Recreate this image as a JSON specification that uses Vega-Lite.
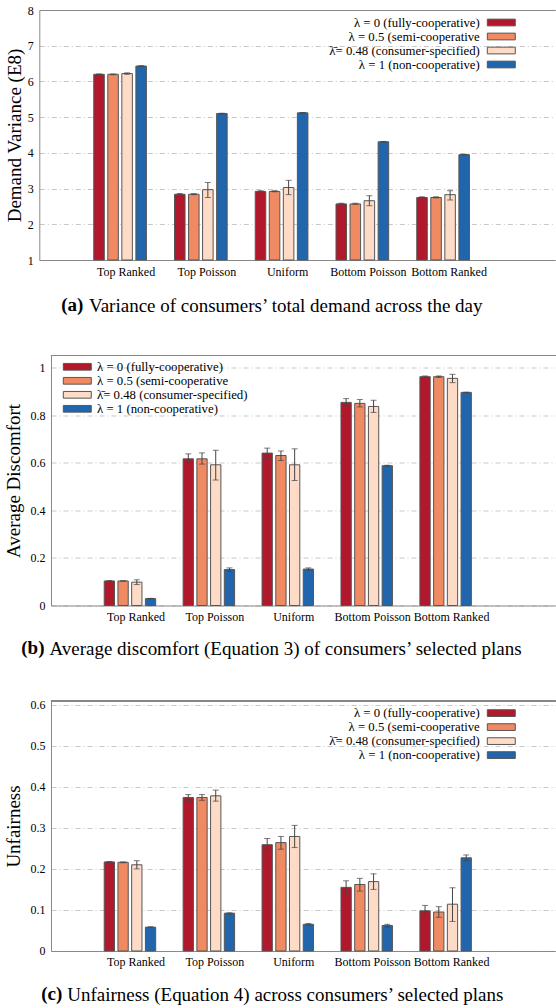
{
  "$schema": "https://vega.github.io/schema/vega-lite/v6.json",
  "background": "white",
  "padding": {"left": 5, "top": 4, "right": 0, "bottom": 0},
  "spacing": 38.5,
  "resolve": {"scale": {"x": "independent", "xOffset": "independent", "y": "independent", "color": "independent"}, "legend": {"color": "independent"}, "axis": {"x": "independent", "y": "independent"}},
  "config": {
    "font": "Liberation Serif",
    "view": {"stroke": null},
    "axis": {
      "labelFont": "Liberation Serif", "titleFont": "Liberation Serif",
      "labelColor": "#000", "titleColor": "#000", "domainColor": "#888", "domainWidth": 1,
      "ticks": false, "tickSize": 0, "labelFontSize": 12, "titleFontSize": 19, "titleFontWeight": "normal",
      "gridColor": "#c8c8c8", "gridDash": [5, 3, 1, 3], "gridWidth": 1, "labelOverlap": false
    },
    "axisX": {"grid": false, "labelAngle": 0, "labelPadding": 6, "labelOverlap": false, "titleBaseline": "alphabetic", "titleAlign": "center", "titleFontSize": 19, "titleFont": "Liberation Serif"},
    "axisY": {"grid": true, "labelPadding": 6, "format": "~g", "labelOverlap": false, "labelFont": "Liberation Serif"},
    "legend": {
      "title": null, "orient": "none", "symbolType": "M-2.33,-0.56L2.33,-0.56L2.33,0.56L-2.33,0.56Z", "symbolSize": 144,
      "symbolStrokeColor": "#555", "symbolStrokeWidth": 1, "symbolOpacity": 1, "labelFont": "Liberation Serif", "labelFontSize": 12.8,
      "labelColor": "#000", "rowPadding": -1.5, "padding": 0, "labelLimit": 300
    },
    "title": {"font": "Liberation Serif", "fontSize": 19, "fontWeight": "bold", "color": "#000", "orient": "bottom", "anchor": "start", "frame": "group", "baseline": "alphabetic", "offset": 0}
  },
  "datasets": {
    "a": [
      {"g": "Top Ranked", "s": "λ = 0 (fully-cooperative)", "v": 6.2, "lo": 6.19, "hi": 6.21},
      {"g": "Top Ranked", "s": "λ = 0.5 (semi-cooperative", "v": 6.2, "lo": 6.19, "hi": 6.21},
      {"g": "Top Ranked", "s": "λ̄= 0.48 (consumer-specified)", "v": 6.22, "lo": 6.2, "hi": 6.24},
      {"g": "Top Ranked", "s": "λ = 1 (non-cooperative)", "v": 6.43, "lo": 6.42, "hi": 6.44},
      {"g": "Top Poisson", "s": "λ = 0 (fully-cooperative)", "v": 2.84, "lo": 2.82, "hi": 2.86},
      {"g": "Top Poisson", "s": "λ = 0.5 (semi-cooperative", "v": 2.84, "lo": 2.83, "hi": 2.86},
      {"g": "Top Poisson", "s": "λ̄= 0.48 (consumer-specified)", "v": 2.97, "lo": 2.75, "hi": 3.17},
      {"g": "Top Poisson", "s": "λ = 1 (non-cooperative)", "v": 5.1, "lo": 5.09, "hi": 5.11},
      {"g": "Uniform", "s": "λ = 0 (fully-cooperative)", "v": 2.92, "lo": 2.91, "hi": 2.94},
      {"g": "Uniform", "s": "λ = 0.5 (semi-cooperative", "v": 2.92, "lo": 2.91, "hi": 2.94},
      {"g": "Uniform", "s": "λ̄= 0.48 (consumer-specified)", "v": 3.03, "lo": 2.83, "hi": 3.23},
      {"g": "Uniform", "s": "λ = 1 (non-cooperative)", "v": 5.12, "lo": 5.11, "hi": 5.13},
      {"g": "Bottom Poisson", "s": "λ = 0 (fully-cooperative)", "v": 2.57, "lo": 2.56, "hi": 2.59},
      {"g": "Bottom Poisson", "s": "λ = 0.5 (semi-cooperative", "v": 2.57, "lo": 2.56, "hi": 2.59},
      {"g": "Bottom Poisson", "s": "λ̄= 0.48 (consumer-specified)", "v": 2.66, "lo": 2.52, "hi": 2.8},
      {"g": "Bottom Poisson", "s": "λ = 1 (non-cooperative)", "v": 4.31, "lo": 4.3, "hi": 4.32},
      {"g": "Bottom Ranked", "s": "λ = 0 (fully-cooperative)", "v": 2.75, "lo": 2.74, "hi": 2.77},
      {"g": "Bottom Ranked", "s": "λ = 0.5 (semi-cooperative", "v": 2.75, "lo": 2.74, "hi": 2.77},
      {"g": "Bottom Ranked", "s": "λ̄= 0.48 (consumer-specified)", "v": 2.83, "lo": 2.68, "hi": 2.94},
      {"g": "Bottom Ranked", "s": "λ = 1 (non-cooperative)", "v": 3.95, "lo": 3.94, "hi": 3.96}
    ],
    "b": [
      {"g": "Top Ranked", "s": "λ = 0 (fully-cooperative)", "v": 0.103, "lo": 0.101, "hi": 0.105},
      {"g": "Top Ranked", "s": "λ = 0.5 (semi-cooperative", "v": 0.103, "lo": 0.102, "hi": 0.104},
      {"g": "Top Ranked", "s": "λ̄= 0.48 (consumer-specified)", "v": 0.098, "lo": 0.088, "hi": 0.108},
      {"g": "Top Ranked", "s": "λ = 1 (non-cooperative)", "v": 0.029, "lo": 0.028, "hi": 0.03},
      {"g": "Top Poisson", "s": "λ = 0 (fully-cooperative)", "v": 0.616, "lo": 0.597, "hi": 0.637},
      {"g": "Top Poisson", "s": "λ = 0.5 (semi-cooperative", "v": 0.616, "lo": 0.594, "hi": 0.641},
      {"g": "Top Poisson", "s": "λ̄= 0.48 (consumer-specified)", "v": 0.591, "lo": 0.527, "hi": 0.652},
      {"g": "Top Poisson", "s": "λ = 1 (non-cooperative)", "v": 0.151, "lo": 0.143, "hi": 0.158},
      {"g": "Uniform", "s": "λ = 0 (fully-cooperative)", "v": 0.64, "lo": 0.618, "hi": 0.661},
      {"g": "Uniform", "s": "λ = 0.5 (semi-cooperative", "v": 0.63, "lo": 0.609, "hi": 0.649},
      {"g": "Uniform", "s": "λ̄= 0.48 (consumer-specified)", "v": 0.591, "lo": 0.525, "hi": 0.658},
      {"g": "Uniform", "s": "λ = 1 (non-cooperative)", "v": 0.153, "lo": 0.148, "hi": 0.158},
      {"g": "Bottom Poisson", "s": "λ = 0 (fully-cooperative)", "v": 0.853, "lo": 0.838, "hi": 0.869},
      {"g": "Bottom Poisson", "s": "λ = 0.5 (semi-cooperative", "v": 0.849, "lo": 0.834, "hi": 0.865},
      {"g": "Bottom Poisson", "s": "λ̄= 0.48 (consumer-specified)", "v": 0.836, "lo": 0.811, "hi": 0.862},
      {"g": "Bottom Poisson", "s": "λ = 1 (non-cooperative)", "v": 0.587, "lo": 0.585, "hi": 0.589},
      {"g": "Bottom Ranked", "s": "λ = 0 (fully-cooperative)", "v": 0.961, "lo": 0.958, "hi": 0.964},
      {"g": "Bottom Ranked", "s": "λ = 0.5 (semi-cooperative", "v": 0.961, "lo": 0.958, "hi": 0.964},
      {"g": "Bottom Ranked", "s": "λ̄= 0.48 (consumer-specified)", "v": 0.954, "lo": 0.936, "hi": 0.971},
      {"g": "Bottom Ranked", "s": "λ = 1 (non-cooperative)", "v": 0.895, "lo": 0.894, "hi": 0.896}
    ],
    "c": [
      {"g": "Top Ranked", "s": "λ = 0 (fully-cooperative)", "v": 0.217, "lo": 0.215, "hi": 0.218},
      {"g": "Top Ranked", "s": "λ = 0.5 (semi-cooperative", "v": 0.216, "lo": 0.215, "hi": 0.217},
      {"g": "Top Ranked", "s": "λ̄= 0.48 (consumer-specified)", "v": 0.21, "lo": 0.2, "hi": 0.22},
      {"g": "Top Ranked", "s": "λ = 1 (non-cooperative)", "v": 0.058, "lo": 0.057, "hi": 0.059},
      {"g": "Top Poisson", "s": "λ = 0 (fully-cooperative)", "v": 0.374, "lo": 0.367, "hi": 0.381},
      {"g": "Top Poisson", "s": "λ = 0.5 (semi-cooperative", "v": 0.374, "lo": 0.367, "hi": 0.381},
      {"g": "Top Poisson", "s": "λ̄= 0.48 (consumer-specified)", "v": 0.378, "lo": 0.365, "hi": 0.392},
      {"g": "Top Poisson", "s": "λ = 1 (non-cooperative)", "v": 0.092, "lo": 0.09, "hi": 0.093},
      {"g": "Uniform", "s": "λ = 0 (fully-cooperative)", "v": 0.259, "lo": 0.243, "hi": 0.274},
      {"g": "Uniform", "s": "λ = 0.5 (semi-cooperative", "v": 0.264, "lo": 0.248, "hi": 0.279},
      {"g": "Uniform", "s": "λ̄= 0.48 (consumer-specified)", "v": 0.279, "lo": 0.252, "hi": 0.306},
      {"g": "Uniform", "s": "λ = 1 (non-cooperative)", "v": 0.065, "lo": 0.063, "hi": 0.067},
      {"g": "Bottom Poisson", "s": "λ = 0 (fully-cooperative)", "v": 0.155, "lo": 0.139, "hi": 0.171},
      {"g": "Bottom Poisson", "s": "λ = 0.5 (semi-cooperative", "v": 0.162, "lo": 0.146, "hi": 0.177},
      {"g": "Bottom Poisson", "s": "λ̄= 0.48 (consumer-specified)", "v": 0.169, "lo": 0.15, "hi": 0.188},
      {"g": "Bottom Poisson", "s": "λ = 1 (non-cooperative)", "v": 0.062, "lo": 0.058, "hi": 0.065},
      {"g": "Bottom Ranked", "s": "λ = 0 (fully-cooperative)", "v": 0.098, "lo": 0.086, "hi": 0.111},
      {"g": "Bottom Ranked", "s": "λ = 0.5 (semi-cooperative", "v": 0.095, "lo": 0.082, "hi": 0.108},
      {"g": "Bottom Ranked", "s": "λ̄= 0.48 (consumer-specified)", "v": 0.114, "lo": 0.072, "hi": 0.154},
      {"g": "Bottom Ranked", "s": "λ = 1 (non-cooperative)", "v": 0.227, "lo": 0.22, "hi": 0.234}
    ]
  },
  "vconcat": [
    {
      "width": 504.3, "height": 250,
      "data": {"name": "a"},
      "title": {"text": "(a)", "dx": 10.3, "dy": -24},
      "resolve": {"axis": {"x": "independent"}},
      "layer": [
        {
          "mark": {"type": "bar", "stroke": "#555", "strokeWidth": 1},
          "encoding": {
            "x": {"field": "g", "type": "nominal", "scale": {"domain": ["Top Ranked", "Top Poisson", "Uniform", "Bottom Poisson", "Bottom Ranked"], "range": [-11.7, 504.3], "paddingInner": 0, "paddingOuter": 0.695, "align": 0.36},
                  "axis": {"title": "Variance of consumers’ total demand across the day", "titleX": 234.3, "titleY": 51.6, "titleFont": "Liberation Serif", "labelOffset": 6}},
            "xOffset": {"field": "s", "type": "nominal", "scale": {"domain": ["λ = 0 (fully-cooperative)", "λ = 0.5 (semi-cooperative", "λ̄= 0.48 (consumer-specified)", "λ = 1 (non-cooperative)"], "paddingInner": 0.25, "paddingOuter": 1.16}},
            "y": {"field": "v", "type": "quantitative", "title": "Demand Variance (E8)", "scale": {"domain": [1, 8], "nice": false, "zero": false},
                  "axis": {"values": [1, 2, 3, 4, 5, 6, 7, 8], "tickCount": 10, "titlePadding": 3, "offset": 11.7}},
            "y2": {"datum": 1},
            "color": {"field": "s", "type": "nominal",
                      "scale": {"domain": ["λ = 0 (fully-cooperative)", "λ = 0.5 (semi-cooperative", "λ̄= 0.48 (consumer-specified)", "λ = 1 (non-cooperative)"], "range": ["#b2182b", "#ef8a62", "#fddbc7", "#2166ac"]},
                      "legend": {"legendX": 443.8, "legendY": 6, "labelAlign": "right", "labelOffset": -28, "labelFont": "Liberation Serif", "labelFontSize": 12.8}}
          }
        },
        {
          "mark": {"type": "rule", "color": "#444", "strokeWidth": 1},
          "encoding": {
            "x": {"field": "g", "type": "nominal", "axis": {"orient": "top", "labels": false, "title": null, "domain": true, "ticks": false, "grid": false}},
            "xOffset": {"field": "s", "type": "nominal"},
            "y": {"field": "lo", "type": "quantitative", "title": "Demand Variance (E8)"},
            "y2": {"field": "hi"}
          }
        },
        {
          "mark": {"type": "tick", "color": "#444", "thickness": 1, "size": 6, "orient": "horizontal"},
          "encoding": {
            "x": {"field": "g", "type": "nominal", "axis": null},
            "xOffset": {"field": "s", "type": "nominal"},
            "y": {"field": "lo", "type": "quantitative", "title": "Demand Variance (E8)"}
          }
        },
        {
          "mark": {"type": "tick", "color": "#444", "thickness": 1, "size": 6, "orient": "horizontal"},
          "encoding": {
            "x": {"field": "g", "type": "nominal", "axis": null},
            "xOffset": {"field": "s", "type": "nominal"},
            "y": {"field": "hi", "type": "quantitative", "title": "Demand Variance (E8)"}
          }
        }
      ]
    },
    {
      "width": 504.3, "height": 250,
      "data": {"name": "b"},
      "title": {"text": "(b)", "dx": -29.7, "dy": -24},
      "layer": [
        {
          "mark": {"type": "bar", "stroke": "#555", "strokeWidth": 1},
          "encoding": {
            "x": {"field": "g", "type": "nominal", "scale": {"domain": ["Top Ranked", "Top Poisson", "Uniform", "Bottom Poisson", "Bottom Ranked"], "paddingInner": 0, "paddingOuter": 0.695, "align": 0.36},
                  "axis": {"title": "Average discomfort (Equation 3) of consumers’ selected plans", "titleX": 234, "titleY": 49.5, "titleFont": "Liberation Serif", "labelOffset": 6}},
            "xOffset": {"field": "s", "type": "nominal", "scale": {"domain": ["λ = 0 (fully-cooperative)", "λ = 0.5 (semi-cooperative", "λ̄= 0.48 (consumer-specified)", "λ = 1 (non-cooperative)"], "paddingInner": 0.25, "paddingOuter": 1.16}},
            "y": {"field": "v", "type": "quantitative", "title": "Average Discomfort", "scale": {"domain": [0, 1.05], "nice": false},
                  "axis": {"values": [0, 0.2, 0.4, 0.6, 0.8, 1], "tickCount": 10, "titlePadding": 6}},
            "color": {"field": "s", "type": "nominal",
                      "scale": {"domain": ["λ = 0 (fully-cooperative)", "λ = 0.5 (semi-cooperative", "λ̄= 0.48 (consumer-specified)", "λ = 1 (non-cooperative)"], "range": ["#b2182b", "#ef8a62", "#fddbc7", "#2166ac"]},
                      "legend": {"legendX": 19.8, "legendY": 4.8, "labelAlign": "left", "labelOffset": 13.2, "labelFont": "Liberation Serif", "labelFontSize": 12.8}}
          }
        },
        {
          "mark": {"type": "rule", "color": "#444", "strokeWidth": 1},
          "encoding": {
            "x": {"field": "g", "type": "nominal"},
            "xOffset": {"field": "s", "type": "nominal"},
            "y": {"field": "lo", "type": "quantitative", "title": "Average Discomfort"},
            "y2": {"field": "hi"}
          }
        },
        {
          "mark": {"type": "tick", "color": "#444", "thickness": 1, "size": 6, "orient": "horizontal"},
          "encoding": {
            "x": {"field": "g", "type": "nominal"},
            "xOffset": {"field": "s", "type": "nominal"},
            "y": {"field": "lo", "type": "quantitative", "title": "Average Discomfort"}
          }
        },
        {
          "mark": {"type": "tick", "color": "#444", "thickness": 1, "size": 6, "orient": "horizontal"},
          "encoding": {
            "x": {"field": "g", "type": "nominal"},
            "xOffset": {"field": "s", "type": "nominal"},
            "y": {"field": "hi", "type": "quantitative", "title": "Average Discomfort"}
          }
        },
        {
          "mark": {"type": "rule", "color": "#888", "strokeWidth": 1},
          "encoding": {"y": {"datum": 1.05}}
        }
      ]
    },
    {
      "width": 504.3, "height": 250,
      "data": {"name": "c"},
      "title": {"text": "(c)", "dx": -9.7, "dy": -24},
      "layer": [
        {
          "mark": {"type": "bar", "stroke": "#555", "strokeWidth": 1},
          "encoding": {
            "x": {"field": "g", "type": "nominal", "scale": {"domain": ["Top Ranked", "Top Poisson", "Uniform", "Bottom Poisson", "Bottom Ranked"], "paddingInner": 0, "paddingOuter": 0.695, "align": 0.36},
                  "axis": {"title": "Unfairness (Equation 4) across consumers’ selected plans", "titleX": 233.8, "titleY": 49.6, "titleFont": "Liberation Serif", "labelOffset": 6}},
            "xOffset": {"field": "s", "type": "nominal", "scale": {"domain": ["λ = 0 (fully-cooperative)", "λ = 0.5 (semi-cooperative", "λ̄= 0.48 (consumer-specified)", "λ = 1 (non-cooperative)"], "paddingInner": 0.25, "paddingOuter": 1.16}},
            "y": {"field": "v", "type": "quantitative", "title": "Unfairness", "scale": {"domain": [0, 0.609], "nice": false},
                  "axis": {"values": [0, 0.1, 0.2, 0.3, 0.4, 0.5, 0.6], "tickCount": 10, "titlePadding": 6}},
            "color": {"field": "s", "type": "nominal",
                      "scale": {"domain": ["λ = 0 (fully-cooperative)", "λ = 0.5 (semi-cooperative", "λ̄= 0.48 (consumer-specified)", "λ = 1 (non-cooperative)"], "range": ["#b2182b", "#ef8a62", "#fddbc7", "#2166ac"]},
                      "legend": {"legendX": 443.8, "legendY": 5.6, "labelAlign": "right", "labelOffset": -28, "labelFont": "Liberation Serif", "labelFontSize": 12.8}}
          }
        },
        {
          "mark": {"type": "rule", "color": "#444", "strokeWidth": 1},
          "encoding": {
            "x": {"field": "g", "type": "nominal"},
            "xOffset": {"field": "s", "type": "nominal"},
            "y": {"field": "lo", "type": "quantitative", "title": "Unfairness"},
            "y2": {"field": "hi"}
          }
        },
        {
          "mark": {"type": "tick", "color": "#444", "thickness": 1, "size": 6, "orient": "horizontal"},
          "encoding": {
            "x": {"field": "g", "type": "nominal"},
            "xOffset": {"field": "s", "type": "nominal"},
            "y": {"field": "lo", "type": "quantitative", "title": "Unfairness"}
          }
        },
        {
          "mark": {"type": "tick", "color": "#444", "thickness": 1, "size": 6, "orient": "horizontal"},
          "encoding": {
            "x": {"field": "g", "type": "nominal"},
            "xOffset": {"field": "s", "type": "nominal"},
            "y": {"field": "hi", "type": "quantitative", "title": "Unfairness"}
          }
        },
        {
          "mark": {"type": "rule", "color": "#888", "strokeWidth": 1},
          "encoding": {"y": {"datum": 0.609}}
        }
      ]
    }
  ]
}
